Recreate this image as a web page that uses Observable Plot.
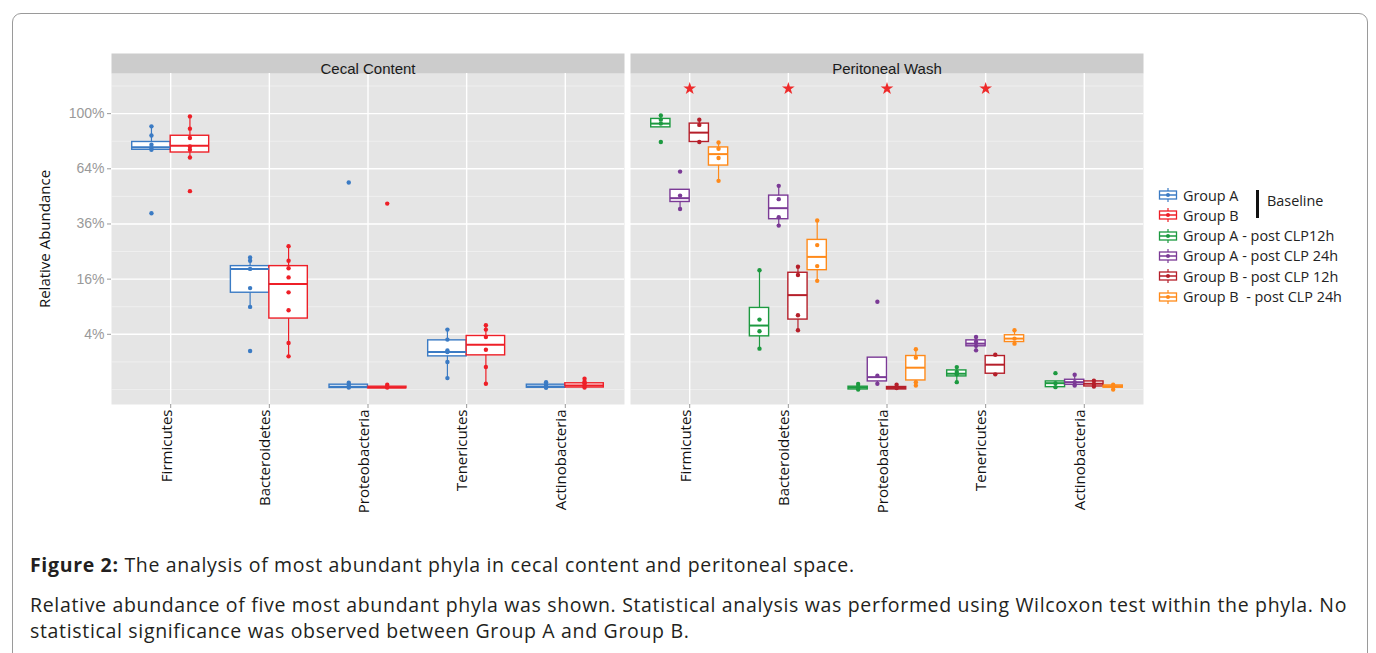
<!DOCTYPE html>
<html><head><meta charset="utf-8">
<script src="https://cdn.jsdelivr.net/npm/d3@7"></script>
<script src="https://cdn.jsdelivr.net/npm/@observablehq/plot@0.6"></script>
<style>
body{margin:0;background:#fff;width:1376px;height:653px;overflow:hidden;position:relative;font-family:"Open Sans",sans-serif;}
#border{position:absolute;left:12px;top:13px;width:1356px;height:670px;border:1px solid #9a9a9a;border-radius:9px;box-sizing:border-box;}
#chart{position:absolute;left:0;top:0;}
#legend{position:absolute;left:0;top:0;width:1376px;height:1px;}
.cap{position:absolute;left:30px;color:#231f20;font-size:19.5px;letter-spacing:0.67px;line-height:26px;white-space:nowrap;}
.lrow{position:absolute;left:1157px;height:20px;display:flex;align-items:center;font-size:14.4px;color:#222;white-space:pre;}
</style></head><body>
<div id="border"></div>
<div id="chart"></div>
<div id="legend"></div>
<div class="cap" style="top:552px"><b>Figure 2:</b> The analysis of most abundant phyla in cecal content and peritoneal space.</div>
<div class="cap" style="top:592px">Relative abundance of five most abundant phyla was shown. Statistical analysis was performed using Wilcoxon test within the phyla. No<br>statistical significance was observed between Group A and Group B.</div>
<script>
// ---------- data ----------
const phyla = ["Firmicutes", "Bacteroidetes", "Proteobacteria", "Tenericutes", "Actinobacteria"];
const panels = ["Cecal Content", "Peritoneal Wash"];
const groups = ["Group A", "Group B", "Group A - post CLP12h", "Group A - post CLP 24h", "Group B - post CLP 12h", "Group B  - post CLP 24h"];
const groupColors = ["#3b7bc4", "#ee1f27", "#1d9a40", "#7b3a96", "#b51f2a", "#ff8a1a"];
const yTicks = [4, 16, 36, 64, 100];
const yMinor = [0, 1, 9, 25, 49, 81, 121];
const yTitle = "Relative Abundance";
const starPhyla = [0, 1, 2, 3];
const starValue = 119;

// box statistics per phylum: [lower whisker, Q1, median, Q3, upper whisker] (%)
const boxCecalA = [[75.5, 75.5, 77.1, 80.5, 91.0], [8.96, 12.3, 19.1, 20.0, 22.9], [0.0, 0.003, 0.01, 0.03, 0.06], [0.17, 1.44, 1.84, 3.17, 4.71], [0.0, 0.004, 0.012, 0.03, 0.07]];
const boxCecalB = [[70.7, 73.8, 78.1, 84.6, 98.0], [1.44, 6.61, 14.6, 20.0, 27.0], [0.0, 0.002, 0.005, 0.01, 0.03], [0.043, 1.53, 2.64, 3.76, 5.42], [0.0, 0.005, 0.02, 0.05, 0.15]];
const boxWashA12 = [[90.3, 90.3, 92.9, 96.2, 98.6], [2.19, 3.71, 5.37, 8.74, 18.7], [0.0, 0.0, 0.005, 0.01, 0.04], [0.07, 0.224, 0.326, 0.477, 0.658], [0.007, 0.007, 0.052, 0.085, 0.085]];
const boxWashA24 = [[42.8, 46.2, 48.1, 52.4, 52.4], [35.3, 38.1, 43.2, 49.4, 54.5], [0.043, 0.085, 0.20, 1.33, 1.33], [2.01, 2.45, 2.76, 3.17, 3.62], [0.012, 0.029, 0.070, 0.124, 0.286]];
const boxWashB12 = [[80.5, 80.5, 86.7, 92.9, 95.7], [4.60, 6.42, 11.7, 17.9, 19.8], [0.0, 0.0, 0.003, 0.008, 0.03], [0.259, 0.326, 0.807, 1.47, 1.59], [0.012, 0.012, 0.043, 0.085, 0.10]];
const boxWashB24 = [[57.2, 65.9, 72.8, 77.0, 80.2], [15.5, 18.7, 23.1, 29.4, 37.5], [0.021, 0.107, 0.623, 1.47, 2.12], [2.76, 2.96, 3.40, 3.86, 4.60], [0.0, 0.004, 0.014, 0.021, 0.03]];

// sample points per phylum (%)
const ptsCecalA = [[91.0, 84.8, 78.7, 76.8, 75.5, 40.8], [22.9, 21.8, 19.1, 13.5, 8.96, 1.94], [0.06, 0.03, 0.01, 0.005, 56.3], [4.71, 3.27, 2.0, 1.84, 0.99, 0.17], [0.07, 0.03, 0.012, 0.004]];
const ptsCecalB = [[98.0, 89.4, 83.1, 77.6, 75.5, 70.7, 51.7], [27.0, 21.8, 19.3, 16.5, 12.4, 8.25, 2.83, 1.44], [0.03, 0.01, 0.005, 45.4], [5.42, 4.71, 3.62, 2.08, 0.66, 0.043], [0.15, 0.08, 0.05, 0.02, 0.005]];
const ptsWashA12 = [[98.6, 95.7, 92.9, 80.5], [18.7, 6.42, 4.45, 2.19], [0.04, 0.01, 0.0], [0.658, 0.4, 0.3, 0.07], [0.35, 0.05, 0.007]];
const ptsWashA24 = [[62.4, 49.4, 42.8], [54.5, 47.6, 39.0, 35.3], [10.1, 0.25, 0.043], [3.62, 3.0, 2.5, 2.01], [0.286, 0.07, 0.02]];
const ptsWashB12 = [[95.7, 92.0, 80.5], [19.8, 17.2, 7.24, 4.60], [0.03, 0.003], [1.59, 0.3], [0.10, 0.04, 0.012]];
const ptsWashB24 = [[80.2, 76.2, 70.4, 57.2], [37.5, 27.4, 20.0, 15.5], [2.12, 1.33, 0.07, 0.021], [4.60, 3.4, 2.76], [0.03, 0.014, 0.0]];

const series = [
  {panel: panels[0], group: groups[0], box: boxCecalA, pts: ptsCecalA},
  {panel: panels[0], group: groups[1], box: boxCecalB, pts: ptsCecalB},
  {panel: panels[1], group: groups[2], box: boxWashA12, pts: ptsWashA12},
  {panel: panels[1], group: groups[3], box: boxWashA24, pts: ptsWashA24},
  {panel: panels[1], group: groups[4], box: boxWashB12, pts: ptsWashB12},
  {panel: panels[1], group: groups[5], box: boxWashB24, pts: ptsWashB24}
];

// ---------- build tables ----------
const dodge = 0.78;
const boxes = [], points = [];
for (const s of series) {
  const members = series.filter(t => t.panel === s.panel);
  const n = members.length, k = members.indexOf(s);
  const w = dodge / n;
  const off = (k - (n - 1) / 2) * w;
  s.box.forEach((b, i) => boxes.push({panel: s.panel, group: s.group, x: i + off, x1: i + off - w / 2, x2: i + off + w / 2,
    lo: b[0], q1: b[1], med: b[2], q3: b[3], hi: b[4]}));
  s.pts.forEach((arr, i) => arr.forEach(v => points.push({panel: s.panel, group: s.group, x: i + off, y: v})));
}
const stars = starPhyla.map(i => ({panel: panels[1], x: i, y: starValue}));
const xIdx = phyla.map((_, i) => i);

const chart = Plot.plot({
  width: 1376, height: 560,
  marginLeft: 111, marginRight: 233, marginTop: 73, marginBottom: 156,
  style: {fontFamily: "'Liberation Sans', Arial, sans-serif", fontSize: "12px", background: "transparent", overflow: "visible"},
  fx: {domain: panels, paddingInner: 6 / 519, paddingOuter: 0, axis: null},
  x: {domain: [-0.6, 4.6]},
  y: {type: "sqrt", domain: [-0.297, 131.22]},
  color: {domain: groups, range: groupColors},
  marks: [
    Plot.frame({fill: "#e5e5e5"}),
    Plot.frame({fill: "#cccccc", insetTop: -20, insetBottom: 331}),
    Plot.gridY({ticks: yMinor, stroke: "#f4f4f4", strokeOpacity: 1, strokeWidth: 0.7}),
    Plot.gridY({ticks: yTicks, stroke: "white", strokeOpacity: 1, strokeWidth: 1.4}),
    Plot.gridX({ticks: xIdx, stroke: "white", strokeOpacity: 1, strokeWidth: 1.4}),
    Plot.ruleX(boxes, {fx: "panel", x: "x", y1: "lo", y2: "hi", stroke: "group", strokeWidth: 1.2}),
    Plot.rect(boxes, {fx: "panel", x1: "x1", x2: "x2", y1: "q1", y2: "q3", fill: "white", stroke: "group", strokeWidth: 1.4}),
    Plot.ruleY(boxes, {fx: "panel", x1: "x1", x2: "x2", y: "med", stroke: "group", strokeWidth: 2}),
    Plot.dot(points, {fx: "panel", x: "x", y: "y", fill: "group", r: 2.2}),
    Plot.dot(stars, {fx: "panel", x: "x", y: "y", symbol: "star", fill: "#ee2a2a", r: 4}),
    Plot.text(panels, {fx: d => d, text: d => d, frameAnchor: "top", dy: -10, fontSize: 15, fill: "#1a1a1a"}),
    Plot.text([yTitle], {fx: () => panels[0], text: d => d, frameAnchor: "left", textAnchor: "middle", rotate: -90, dx: -66, fontSize: 15, fontFamily: "'Open Sans'", fill: "#111"}),
    Plot.axisY({ticks: yTicks, tickFormat: d => d + "%", tickSize: 4, tickPadding: 3, stroke: "#999", fill: "#999", fontSize: 14, label: null}),
    Plot.axisX({ticks: xIdx, tickFormat: () => "", tickSize: 4, stroke: "#999", label: null}),
    Plot.axisX({ticks: xIdx, tickFormat: i => phyla[i], tickRotate: -90, tickSize: 0, tickPadding: 5, dx: -4, fill: "#111", fontSize: 15, fontFamily: "'Open Sans'", label: null})
  ]
});
document.getElementById("chart").appendChild(chart);

// ---------- legend ----------
const legend = document.getElementById("legend");
groups.forEach((g, i) => {
  const row = document.createElement("div");
  row.className = "lrow";
  row.style.top = (185 + i * 20.3) + "px";
  const c = groupColors[i];
  row.innerHTML = `<svg width="22" height="16" style="margin-right:4px"><line x1="11" x2="11" y1="1" y2="15" stroke="${c}" stroke-width="1.2"/><rect x="2.5" y="4" width="17" height="8" fill="white" stroke="${c}" stroke-width="1.3"/><line x1="2.5" x2="19.5" y1="8" y2="8" stroke="${c}" stroke-width="1.5"/><circle cx="11" cy="8" r="2" fill="${c}"/></svg><span>${g}</span>`;
  legend.appendChild(row);
});
const bar = document.createElement("div");
bar.style.cssText = "position:absolute;left:1256px;top:190px;width:3px;height:28px;background:#111;";
legend.appendChild(bar);
const base = document.createElement("div");
base.style.cssText = "position:absolute;left:1267px;top:191px;font-size:14.4px;color:#222;line-height:20px;";
base.textContent = "Baseline";
legend.appendChild(base);
</script>
</body></html>
